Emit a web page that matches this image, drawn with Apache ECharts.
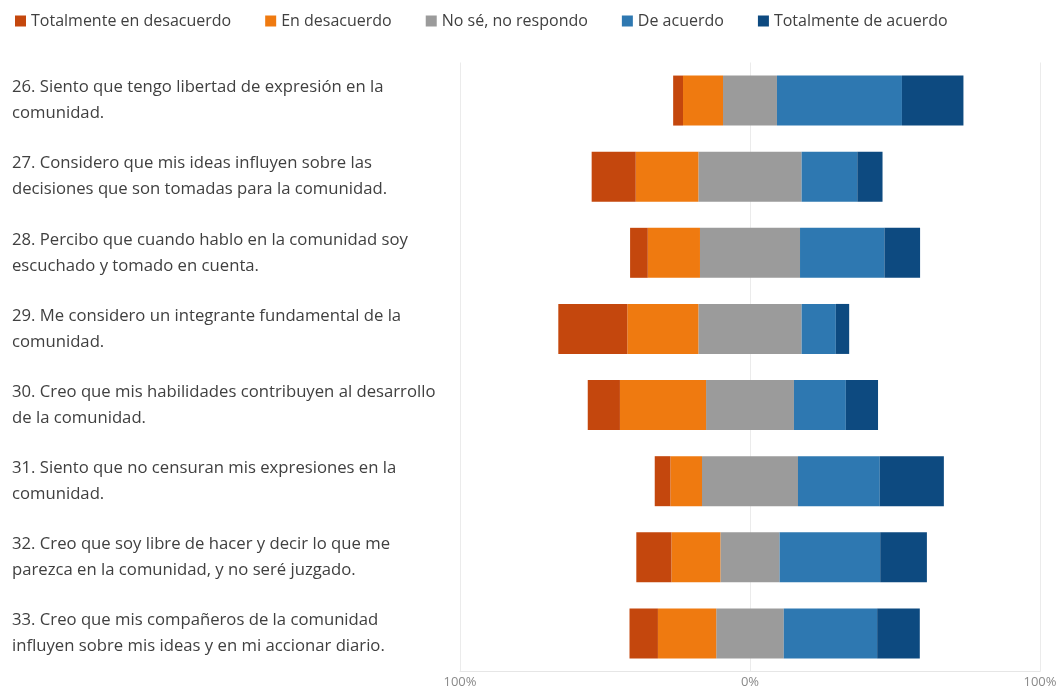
<!DOCTYPE html>
<html>
<head>
<meta charset="utf-8">
<script src="https://cdn.jsdelivr.net/npm/echarts@6/dist/echarts.min.js"></script>
<style>
html,body{margin:0;padding:0;background:#fff;}
#chart{width:1063px;height:690px;}
</style>
</head>
<body>
<div id="chart"></div>
<script>
const categories = [
  "26. Siento que tengo libertad de expresión en la\ncomunidad.",
  "27. Considero que mis ideas influyen sobre las\ndecisiones que son tomadas para la comunidad.",
  "28. Percibo que cuando hablo en la comunidad soy\nescuchado y tomado en cuenta.",
  "29. Me considero un integrante fundamental de la\ncomunidad.",
  "30. Creo que mis habilidades contribuyen al desarrollo\nde la comunidad.",
  "31. Siento que no censuran mis expresiones en la\ncomunidad.",
  "32. Creo que soy libre de hacer y decir lo que me\nparezca en la comunidad, y no seré juzgado.",
  "33. Creo que mis compañeros de la comunidad\ninfluyen sobre mis ideas y en mi accionar diario."
];
const seriesNames = ["Totalmente en desacuerdo", "En desacuerdo", "No sé, no respondo", "De acuerdo", "Totalmente de acuerdo"];
const totDesacuerdo = [3.4, 15.2, 6.1, 23.8, 11.1, 5.4, 12.1, 9.8];
const desacuerdo    = [13.8, 21.6, 18.0, 24.5, 29.7, 10.9, 16.9, 20.1];
const noSe          = [18.6, 35.6, 34.5, 35.6, 30.3, 33.1, 20.4, 23.3];
const deAcuerdo     = [43.1, 19.2, 29.1, 11.8, 17.9, 28.2, 34.7, 32.2];
const totAcuerdo    = [21.2, 8.7, 12.3, 4.6, 11.1, 22.1, 16.1, 14.7];
const xTicks = [-100, 0, 100];

const colors = {
  "Totalmente en desacuerdo": "#C4470D",
  "En desacuerdo": "#EF7A10",
  "No sé, no respondo": "#9B9B9B",
  "De acuerdo": "#2E78B1",
  "Totalmente de acuerdo": "#0D4A80"
};

const chart = echarts.init(document.getElementById('chart'));
const barW = 50;
function mk(name, data) {
  return {
    name: name, type: 'bar', stack: 'total', barWidth: barW,
    data: data, itemStyle: {color: colors[name]},
    emphasis: {disabled: true}
  };
}
chart.setOption({
  animation: false,
  textStyle: {fontFamily: "'Open Sans', sans-serif"},
  legend: {
    data: seriesNames.map(n => ({name: n, itemStyle: {color: colors[n]}})),
    left: 10, top: 8,
    icon: 'rect', itemWidth: 11, itemHeight: 11, itemGap: 34,
    textStyle: {fontSize: 16, color: '#404040', fontFamily: "'Open Sans', sans-serif"}
  },
  grid: {left: 460, right: 23, top: 62.5, bottom: 18.5},
  xAxis: {
    type: 'value', min: xTicks[0], max: xTicks[2], interval: 100,
    axisLine: {show: true, onZero: false, lineStyle: {color: '#E6E6E6'}},
    axisTick: {show: false},
    splitLine: {show: true, lineStyle: {color: '#EBEBEB'}},
    axisLabel: {formatter: v => Math.abs(v) + '%', color: '#8A8A8A', fontSize: 13, margin: 4}
  },
  yAxis: {
    type: 'category', data: categories, inverse: true,
    axisLine: {show: false}, axisTick: {show: false},
    axisLabel: {align: 'left', margin: 448, fontSize: 16.7, lineHeight: 26, color: '#404040'}
  },
  series: [
    mk("No sé, no respondo", noSe.map(v => -v / 2)),
    mk("En desacuerdo", desacuerdo.map(v => -v)),
    mk("Totalmente en desacuerdo", totDesacuerdo.map(v => -v)),
    mk("No sé, no respondo", noSe.map(v => v / 2)),
    mk("De acuerdo", deAcuerdo),
    mk("Totalmente de acuerdo", totAcuerdo)
  ]
});
</script>
</body>
</html>
